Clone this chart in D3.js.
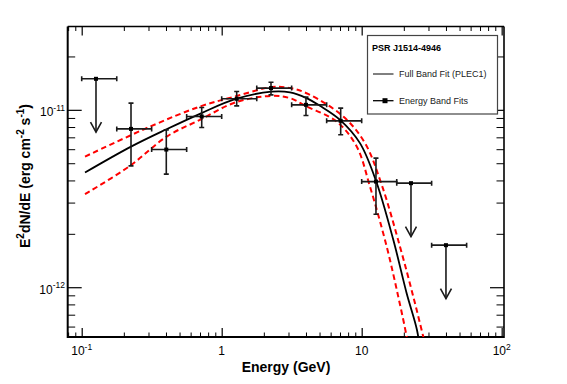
<!DOCTYPE html>
<html>
<head>
<meta charset="utf-8">
<script src="https://cdn.jsdelivr.net/npm/d3@7/dist/d3.min.js"></script>
<style>
  html, body { margin: 0; padding: 0; background: #fff; }
  svg { display: block; font-family: "Liberation Sans", Arial, Helvetica, sans-serif; }
</style>
</head>
<body>
<svg id="chart" width="567" height="384"></svg>
<script>
// ---------------- data ----------------
const eCenter = [0.1265, 0.225, 0.402, 0.72, 1.28, 2.25, 4.0, 7.08, 12.65, 22.5, 40.0];
const eLow    = [0.1, 0.178, 0.316, 0.562, 1.0, 1.78, 3.16, 5.62, 10, 17.8, 31.6];
const eHigh   = [0.178, 0.316, 0.562, 1.0, 1.78, 3.16, 5.62, 10, 17.8, 31.6, 56.2];
const flux    = [1.496e-11, 7.81e-12, 5.97e-12, 9.17e-12, 1.154e-11, 1.326e-11, 1.067e-11, 8.67e-12, 3.94e-12, 3.86e-12, 1.726e-12];
const fluxHi  = [null, 1.091e-11, 7.71e-12, 1.03e-11, 1.268e-11, 1.432e-11, 1.179e-11, 1.022e-11, 5.34e-12, null, null];
const fluxLo  = [null, 4.83e-12, 4.34e-12, 7.95e-12, 1.053e-11, 1.215e-11, 9.29e-12, 7.23e-12, 2.58e-12, null, null];
const upperLimit = [true, false, false, false, false, false, false, false, false, true, true];

// full band fit (PLEC1)
const fitE = [0.1056, 0.2268, 0.4034, 0.7117, 1.245, 2.268, 3.076, 4.0, 5.04, 7.0, 9.72, 12.65, 16.82, 20.95, 24.83, 26.1];
const fitV = [4.43e-12, 6.22e-12, 7.77e-12, 9.56e-12, 1.149e-11, 1.266e-11, 1.255e-11, 1.169e-11, 1.053e-11, 8.78e-12, 6.49e-12, 3.98e-12, 1.85e-12, 9.25e-13, 5.74e-13, 4.43e-13];
// upper / lower error band
const bandHiE = [0.1056, 0.3162, 0.6998, 1.245, 2.275, 3.076, 4.135, 7.39, 10.56, 13.9, 18.77, 23.37, 27.54, 29.27];
const bandHiV = [5.45e-12, 8.12e-12, 1.044e-11, 1.189e-11, 1.343e-11, 1.326e-11, 1.231e-11, 9.17e-12, 6.49e-12, 3.78e-12, 1.694e-12, 8.85e-13, 5.26e-13, 4.32e-13];
const bandLoE = [0.1056, 0.2213, 0.4047, 0.6998, 1.245, 2.275, 3.076, 4.046, 6.628, 9.21, 11.46, 15.09, 18.25, 20.95, 21.77];
const bandLoV = [3.346e-12, 4.832e-12, 7.069e-12, 8.78e-12, 1.0994e-11, 1.199e-11, 1.164e-11, 1.044e-11, 8.59e-12, 6.21e-12, 3.693e-12, 1.694e-12, 8.85e-13, 5.26e-13, 4.32e-13];

const xMajor = [0.1, 1, 10, 100];
const xTickLabels = [["10", "-1"], ["1", ""], ["10", ""], ["10", "2"]];
const yMajor = [1e-12, 1e-11];
const yTickLabels = [["10", "-12"], ["10", "-11"]];

const legendTitle = "PSR J1514-4946";
const legendLabels = ["Full Band Fit (PLEC1)", "Energy Band Fits"];
const xTitle = "Energy (GeV)";

// ---------------- layout ----------------
const L = 67.7, R = 504, T = 26.5, B = 337;
const svg = d3.select("#chart");

const x = d3.scaleLog().domain([0.07943, 103.9]).range([L, R]);
const y = d3.scaleLog().domain([5.24e-13, 2.95e-11]).range([B, T]);

function minorTicks(scale, majors) {
  const [d0, d1] = scale.domain();
  const out = [];
  for (let e = Math.floor(Math.log10(d0)) ; e <= Math.ceil(Math.log10(d1)); e++) {
    for (let m = 2; m <= 9; m++) {
      const v = m * Math.pow(10, e);
      if (v > d0 && v < d1) out.push(v);
    }
  }
  return out;
}
const xMinor = minorTicks(x);
const yMinor = minorTicks(y);

function styleAxis(g, w) {
  g.select(".domain").remove();
  g.selectAll(".tick line").attr("stroke", "#000").attr("stroke-width", w);
  g.selectAll(".tick text").remove();
}

// bottom
svg.append("g").attr("transform", `translate(0,${B})`)
  .call(d3.axisBottom(x).tickValues(xMajor).tickSize(-9).tickFormat(""))
  .call(g => styleAxis(g, 1.2));
svg.append("g").attr("transform", `translate(0,${B})`)
  .call(d3.axisBottom(x).tickValues(xMinor).tickSize(-4.5).tickFormat(""))
  .call(g => styleAxis(g, 1));
// top
svg.append("g").attr("transform", `translate(0,${T})`)
  .call(d3.axisTop(x).tickValues(xMajor).tickSize(-9).tickFormat(""))
  .call(g => styleAxis(g, 1.2));
svg.append("g").attr("transform", `translate(0,${T})`)
  .call(d3.axisTop(x).tickValues(xMinor).tickSize(-4.5).tickFormat(""))
  .call(g => styleAxis(g, 1));
// left
svg.append("g").attr("transform", `translate(${L},0)`)
  .call(d3.axisLeft(y).tickValues(yMajor).tickSize(-14).tickFormat(""))
  .call(g => styleAxis(g, 1.2));
svg.append("g").attr("transform", `translate(${L},0)`)
  .call(d3.axisLeft(y).tickValues(yMinor).tickSize(-7.5).tickFormat(""))
  .call(g => styleAxis(g, 1));
// right
svg.append("g").attr("transform", `translate(${R},0)`)
  .call(d3.axisRight(y).tickValues(yMajor).tickSize(-14).tickFormat(""))
  .call(g => styleAxis(g, 1.2));
svg.append("g").attr("transform", `translate(${R},0)`)
  .call(d3.axisRight(y).tickValues(yMinor).tickSize(-7.5).tickFormat(""))
  .call(g => styleAxis(g, 1));

// frame
const frame = svg.append("g").attr("stroke", "#000").attr("fill", "none");
frame.append("line").attr("x1", L).attr("x2", L).attr("y1", T).attr("y2", B + 1).attr("stroke-width", 2);
frame.append("line").attr("x1", L).attr("x2", R).attr("y1", B).attr("y2", B).attr("stroke-width", 2);
frame.append("line").attr("x1", L).attr("x2", R).attr("y1", T).attr("y2", T).attr("stroke-width", 1.3);
frame.append("line").attr("x1", R).attr("x2", R).attr("y1", T).attr("y2", B + 1).attr("stroke-width", 1.6);

// tick labels
xMajor.forEach((v, i) => {
  const t = svg.append("text").attr("x", x(v)).attr("y", 355)
    .attr("text-anchor", "middle").attr("font-size", 12).attr("fill", "#000");
  t.append("tspan").text(xTickLabels[i][0]);
  if (xTickLabels[i][1]) t.append("tspan").attr("dy", -5).attr("font-size", 8.5).text(xTickLabels[i][1]);
});
yMajor.forEach((v, i) => {
  const t = svg.append("text").attr("x", 65).attr("y", y(v) + 6.5)
    .attr("text-anchor", "end").attr("font-size", 12).attr("fill", "#000");
  t.append("tspan").text(yTickLabels[i][0]);
  if (yTickLabels[i][1]) t.append("tspan").attr("dy", -5.5).attr("font-size", 8.5).text(yTickLabels[i][1]);
});

// axis titles
svg.append("text").attr("x", 286).attr("y", 372).attr("text-anchor", "middle")
  .attr("font-size", 14).attr("font-weight", "bold").text(xTitle);
const yt = svg.append("text").attr("transform", "translate(30,176) rotate(-90)")
  .attr("text-anchor", "middle").attr("font-size", 14).attr("font-weight", "bold");
yt.append("tspan").text("E");
yt.append("tspan").attr("dy", -6).attr("font-size", 10).text("2");
yt.append("tspan").attr("dy", 6).text("dN/dE (erg cm");
yt.append("tspan").attr("dy", -6).attr("font-size", 10).text("-2");
yt.append("tspan").attr("dy", 6).text(" s");
yt.append("tspan").attr("dy", -6).attr("font-size", 10).text("-1");
yt.append("tspan").attr("dy", 6).text(")");

// clip
svg.append("clipPath").attr("id", "plotclip").append("rect")
  .attr("x", L).attr("y", T).attr("width", R - L).attr("height", B - T);
const plot = svg.append("g").attr("clip-path", "url(#plotclip)");

const line = d3.line().x(d => x(d[0])).y(d => y(d[1])).curve(d3.curveCatmullRom.alpha(0.5));

plot.append("path").datum(d3.zip(bandHiE, bandHiV)).attr("d", line)
  .attr("fill", "none").attr("stroke", "#ff0000").attr("stroke-width", 2).attr("stroke-dasharray", "5.5,3.5");
plot.append("path").datum(d3.zip(bandLoE, bandLoV)).attr("d", line)
  .attr("fill", "none").attr("stroke", "#ff0000").attr("stroke-width", 2).attr("stroke-dasharray", "5.5,3.5");
plot.append("path").datum(d3.zip(fitE, fitV)).attr("d", line)
  .attr("fill", "none").attr("stroke", "#000").attr("stroke-width", 1.8);

// data points
const pts = plot.append("g").attr("stroke", "#1a1a1a").attr("stroke-width", 1.6).attr("fill", "none");
eCenter.forEach((e, i) => {
  const cx = x(e), cy = y(flux[i]);
  const x0 = x(eLow[i]), x1 = x(eHigh[i]);
  const cap = 2.5;
  pts.append("line").attr("x1", x0).attr("x2", x1).attr("y1", cy).attr("y2", cy);
  pts.append("line").attr("x1", x0).attr("x2", x0).attr("y1", cy - cap).attr("y2", cy + cap);
  pts.append("line").attr("x1", x1).attr("x2", x1).attr("y1", cy - cap).attr("y2", cy + cap);
  if (upperLimit[i]) {
    const tip = y(flux[i] / 2);
    pts.append("line").attr("x1", cx).attr("x2", cx).attr("y1", cy).attr("y2", tip);
    pts.append("path").attr("d", `M${cx - 5.5},${tip - 10}L${cx},${tip}L${cx + 5.5},${tip - 10}`);
  } else {
    const yh = y(fluxHi[i]), yl = y(fluxLo[i]);
    pts.append("line").attr("x1", cx).attr("x2", cx).attr("y1", yh).attr("y2", yl);
    pts.append("line").attr("x1", cx - cap).attr("x2", cx + cap).attr("y1", yh).attr("y2", yh);
    pts.append("line").attr("x1", cx - cap).attr("x2", cx + cap).attr("y1", yl).attr("y2", yl);
  }
  plot.append("rect").attr("x", cx - 2).attr("y", cy - 2).attr("width", 4).attr("height", 4).attr("fill", "#000");
});

// legend
const lg = svg.append("g");
lg.append("rect").attr("x", 367.5).attr("y", 35.5).attr("width", 130).attr("height", 78.5)
  .attr("fill", "#fff").attr("stroke", "#444").attr("stroke-width", 1.2);
lg.append("text").attr("x", 372).attr("y", 51).attr("font-size", 9).attr("font-weight", "bold").text(legendTitle);
lg.append("line").attr("x1", 373).attr("x2", 393.5).attr("y1", 74).attr("y2", 74).attr("stroke", "#000").attr("stroke-width", 1);
lg.append("text").attr("x", 399).attr("y", 77.3).attr("font-size", 9).attr("fill", "#222").text(legendLabels[0]);
lg.append("line").attr("x1", 373).attr("x2", 393.5).attr("y1", 100.7).attr("y2", 100.7).attr("stroke", "#000").attr("stroke-width", 1.3);
lg.append("rect").attr("x", 382.5).attr("y", 98.2).attr("width", 5).attr("height", 5).attr("fill", "#000");
lg.append("text").attr("x", 399).attr("y", 104).attr("font-size", 9).attr("fill", "#222").text(legendLabels[1]);
</script>
</body>
</html>
